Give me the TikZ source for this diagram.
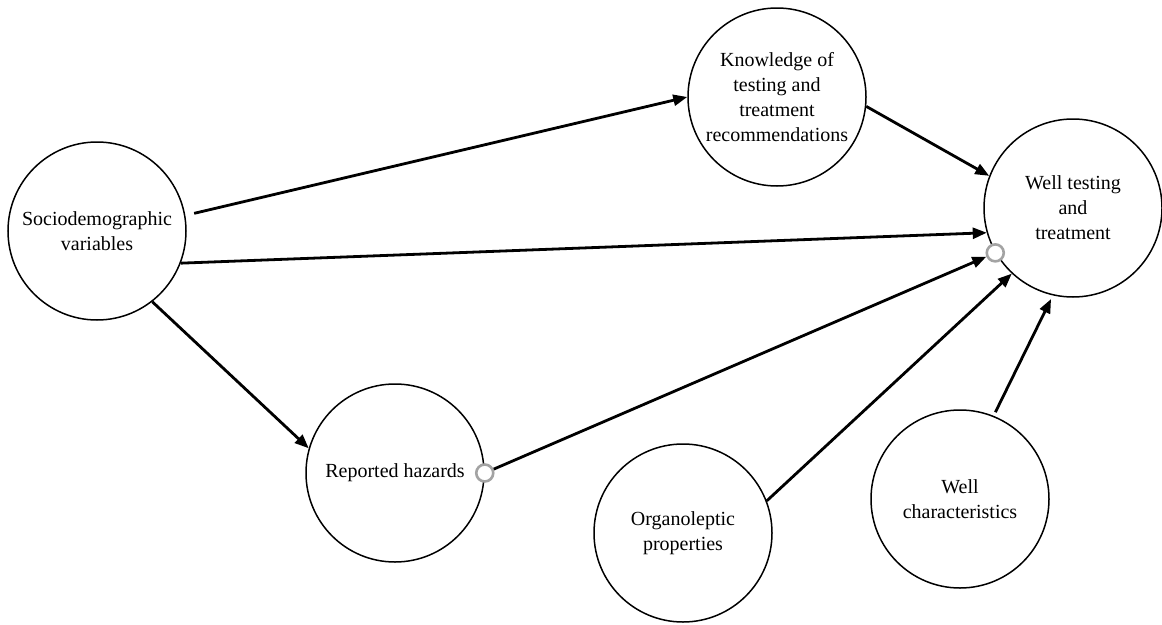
\documentclass[tikz,border=0pt]{standalone}
\usepackage{fontspec}
\setmainfont{Liberation Serif}
\usetikzlibrary{arrows.meta}
\definecolor{PortGray}{HTML}{A3A3A3}

\tikzset{
  concept/.style={circle, draw=black, line width=1.5pt, minimum size=178pt,
    inner sep=0pt, align=center, font=\fontsize{20}{25}\selectfont},
  link/.style={line width=2.8pt, -{Triangle[length=14pt,width=11pt]}},
  port/.style={circle, draw=PortGray, line width=2.6pt, fill=white,
    minimum size=17pt, inner sep=0pt}
}

\begin{document}
\begin{tikzpicture}[x=1pt,y=-1pt]
  \useasboundingbox (0,0) rectangle (1162,624);

  % factors
  \node[concept] (socio) at (97,231) {Sociodemographic\\variables};
  \node[concept] (know) at (777,97) {Knowledge of\\testing and\\treatment\\recommendations};
  \node[concept] (well) at (1073,208) {Well testing\\and\\treatment};
  \node[concept] (hazard) at (395,473) {Reported hazards};
  \node[concept] (organo) at (683,533) {Organoleptic\\properties};
  \node[concept] (wellchar) at (960,499) {Well\\characteristics};

  % connection points
  \node[port] (hzport) at (hazard.east) {};
  \node[port] (wellport) at (well.210) {};

  % paths
  \draw[link, shorten <=9pt] (socio.10) -- (know.180);
  \draw[link] (socio.-21) -- (well.196);
  \draw[link] (socio.-52) -- (hazard.164);
  \draw[link] (know.-6) -- (well.159);
  \draw[link] (hzport) -- (wellport);
  \draw[link] (organo.21) -- (well.227);
  \draw[link, shorten <=4pt, shorten >=4pt] (wellchar.68) -- (well.257);
\end{tikzpicture}
\end{document}
